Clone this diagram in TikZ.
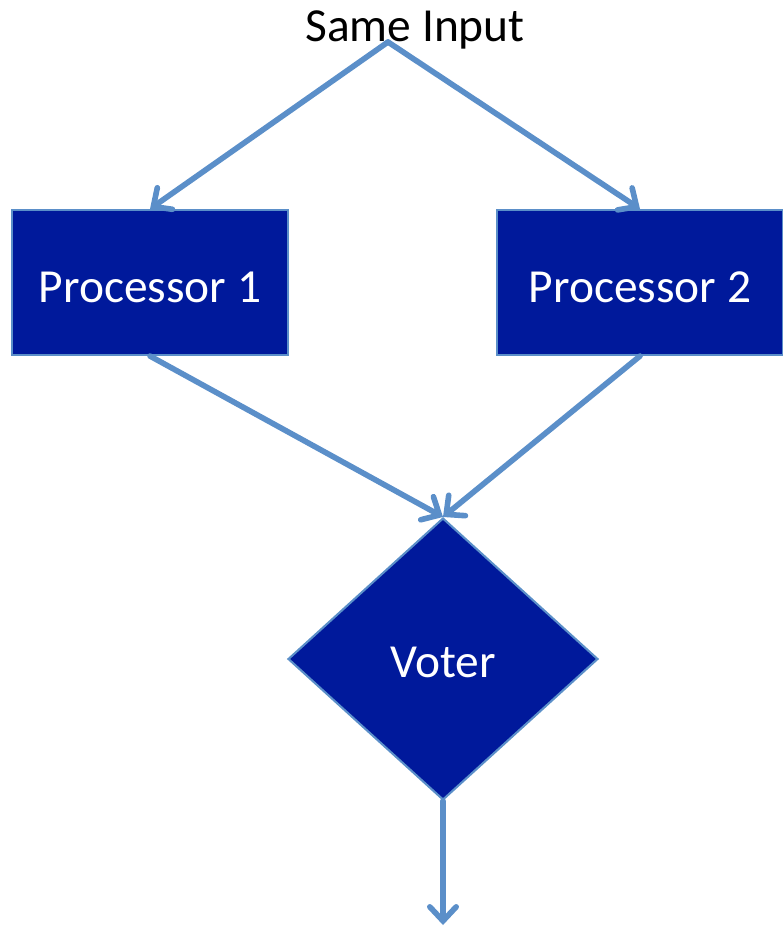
\documentclass[tikz,border=0pt]{standalone}
\usepackage{fontspec}
\setmainfont{Carlito}
\usetikzlibrary{shapes.geometric, arrows.meta}
\definecolor{boxblue}{RGB}{0,25,155}
\definecolor{lineblue}{RGB}{91,143,201}

\begin{document}
\begin{tikzpicture}[x=0.02cm, y=-0.02cm,
        flow/.style={draw=lineblue, line width=3.2pt, line cap=round,
            -{Straight Barb[length=8pt,width=15pt,line cap=round]}},
        proc/.style={rectangle, fill=boxblue, draw=lineblue, line width=1.2pt,
            text=white, inner sep=0pt, minimum height=2.9cm,
            text height=23pt, text depth=0pt,
            font=\fontsize{27}{32}\selectfont},
        vote/.style={diamond, fill=boxblue, draw=lineblue, line width=1.2pt,
            text=white, inner sep=0pt, minimum width=6.2cm, minimum height=5.64cm,
            text height=21pt, text depth=0pt,
            font=\fontsize{27}{32}\selectfont}]
            \useasboundingbox (0,0) rectangle (782,929);
            \node[font=\fontsize{27}{32}\selectfont] (input) at (415,30) {Same Input};
            \coordinate (split) at (388,42);
            \node[proc, minimum width=5.52cm] (p1) at (150,282.5) {Processor 1};
            \node[proc, minimum width=5.72cm] (p2) at (640,282.5) {Processor 2};
            \node[vote] (voter) at (443,659) {Voter};
            \coordinate (out) at (443,925);
            \draw[flow] (split) -- (p1.north);
            \draw[flow] (split) -- (p2.north);
            \draw[flow] (p1.south) -- (voter.north);
            \draw[flow] (p2.south) -- (voter.north);
            \draw[flow] (voter.south) -- (out);
        \end{tikzpicture}
\end{document}
